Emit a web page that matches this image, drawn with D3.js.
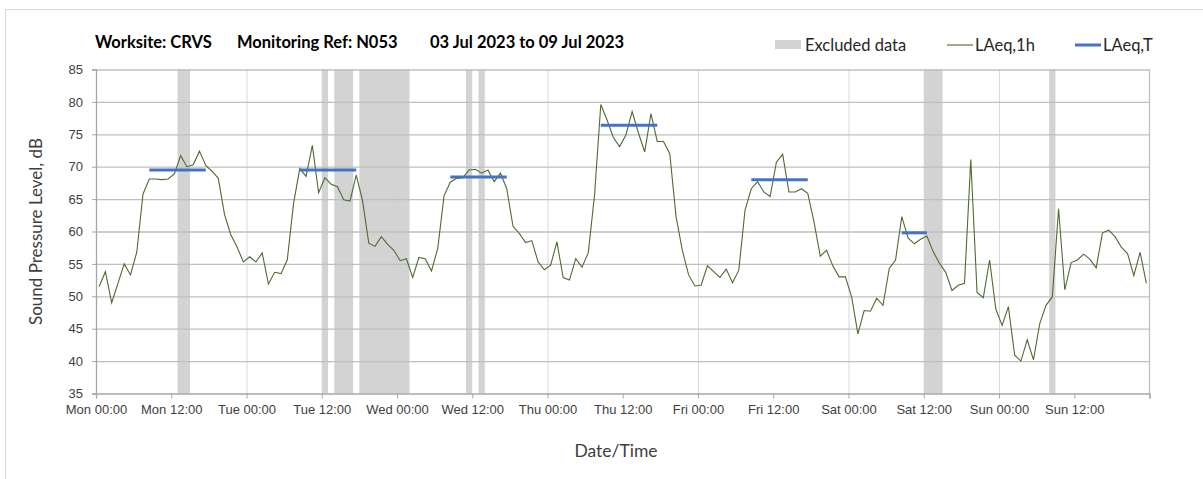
<!DOCTYPE html>
<html>
<head>
<meta charset="utf-8">
<script src="https://cdn.jsdelivr.net/npm/d3@7"></script>
<style>
  body { margin: 0; background: #fff; }
  svg { display: block; font-family: Lato, "Open Sans", sans-serif; }
</style>
</head>
<body>
<svg id="chart" width="1203" height="479"></svg>
<script>
// hourly LAeq,1h values, Mon 00:00 .. Sun 23:00 (168 hours)
const laeq1h = [
  // Mon
  51.5, 53.8, 49.0, 52.0, 55.0, 53.3, 56.8, 65.8, 68.1, 68.1, 68.0, 68.1,
  68.9, 71.7, 70.0, 70.3, 72.4, 70.2, 69.3, 68.2, 62.6, 59.5, 57.6, 55.3,
  // Tue
  56.1, 55.3, 56.7, 51.9, 53.7, 53.5, 55.6, 64.3, 69.7, 68.5, 73.3, 66.0,
  68.3, 67.3, 66.9, 64.9, 64.7, 68.7, 64.8, 58.2, 57.7, 59.2, 58.0, 57.1,
  // Wed
  55.5, 55.8, 52.9, 56.0, 55.8, 53.9, 57.4, 65.5, 67.6, 68.2, 68.3, 69.5,
  69.6, 69.0, 69.5, 67.7, 69.0, 66.6, 60.8, 59.7, 58.3, 58.6, 55.3, 54.1,
  // Thu
  54.8, 58.4, 52.9, 52.5, 55.8, 54.5, 56.7, 65.6, 79.6, 77.2, 74.5, 73.1,
  74.9, 78.5, 75.2, 72.3, 78.2, 73.9, 73.9, 72.0, 62.3, 57.1, 53.3, 51.6,
  // Fri
  51.7, 54.7, 53.8, 52.9, 54.2, 52.1, 54.0, 63.3, 66.6, 67.7, 66.1, 65.4,
  70.7, 71.9, 66.1, 66.1, 66.6, 65.9, 61.5, 56.2, 57.1, 54.7, 53.0, 53.0,
  // Sat
  49.9, 44.2, 47.8, 47.7, 49.7, 48.6, 54.3, 55.6, 62.3, 59.0, 58.1, 58.8,
  59.3, 56.9, 55.1, 53.7, 50.9, 51.7, 52.0, 71.1, 50.6, 49.8, 55.6, 48.0,
  // Sun
  45.5, 48.4, 40.9, 40.0, 43.3, 40.2, 45.8, 48.6, 49.9, 63.5, 51.0, 55.2,
  55.6, 56.5, 55.7, 54.4, 59.8, 60.2, 59.2, 57.6, 56.6, 53.2, 56.8, 52.0
];

// LAeq,T periods: first hour, last hour, level
const periodStart = [8, 32, 56, 80, 104, 128];
const periodEnd = [17, 41, 65, 89, 113, 132];
const periodLevel = [69.5, 69.5, 68.4, 76.4, 68.0, 59.8];

// excluded data: start hour, end hour
const excludedStart = [13, 36, 38, 42, 59, 61, 132, 152];
const excludedEnd = [15, 37, 41, 50, 60, 62, 135, 153];

const tickLabels = ["Mon 00:00", "Mon 12:00", "Tue 00:00", "Tue 12:00", "Wed 00:00",
  "Wed 12:00", "Thu 00:00", "Thu 12:00", "Fri 00:00", "Fri 12:00", "Sat 00:00",
  "Sat 12:00", "Sun 00:00", "Sun 12:00", ""];
const yTicks = [35, 40, 45, 50, 55, 60, 65, 70, 75, 80, 85];

const svg = d3.select("#chart");

// outer chart border
svg.append("rect")
  .attr("x", 5.5).attr("y", 9.5)
  .attr("width", 1210).attr("height", 480)
  .attr("fill", "none")
  .attr("stroke", "#d9d9d9");

const x = d3.scaleLinear().domain([0, 168]).range([96, 1149.5]);
const y = d3.scaleLinear().domain([35, 85]).range([393.5, 69.5]);

// excluded bands
svg.append("g").selectAll("rect")
  .data(excludedStart.map((s, i) => [s, excludedEnd[i]]))
  .join("rect")
  .attr("x", d => x(d[0]))
  .attr("width", d => x(d[1]) - x(d[0]))
  .attr("y", y(85))
  .attr("height", y(35) - y(85))
  .attr("fill", "#d3d3d3");

// vertical gridlines at midnight
svg.append("g")
  .attr("transform", `translate(0,${y(35)})`)
  .call(d3.axisBottom(x).tickValues(d3.range(24, 168, 24)).tickSize(-(y(35) - y(85))).tickFormat(""))
  .call(g => g.select(".domain").remove())
  .selectAll("line")
  .attr("stroke", "#cfcfcf")
  .attr("stroke-opacity", 0.8);

// horizontal gridlines
svg.append("g")
  .attr("transform", `translate(${x(0)},0)`)
  .call(d3.axisLeft(y).tickValues(yTicks.slice(1)).tickSize(-(x(168) - x(0))).tickFormat(""))
  .call(g => g.select(".domain").remove())
  .selectAll("line")
  .attr("stroke", "#bfbfbf")
  .attr("stroke-width", 1.3);

// right border of plot
svg.append("line")
  .attr("x1", x(168)).attr("x2", x(168))
  .attr("y1", y(85)).attr("y2", y(35))
  .attr("stroke", "#bfbfbf")
  .attr("stroke-width", 1.3);

// x axis
const xAxis = svg.append("g")
  .attr("transform", `translate(0,${y(35)})`)
  .call(d3.axisBottom(x)
    .tickValues(d3.range(0, 169, 12))
    .tickSize(5)
    .tickPadding(6)
    .tickFormat((d, i) => tickLabels[i]));
xAxis.select(".domain").attr("stroke", "#a6a6a6").attr("stroke-width", 1.3);
xAxis.selectAll("line").attr("stroke", "#a6a6a6");
xAxis.selectAll("text")
  .style("font-size", "13px")
  .attr("fill", "#404040");

// y axis
const yAxis = svg.append("g")
  .attr("transform", `translate(${x(0)},0)`)
  .call(d3.axisLeft(y).tickValues(yTicks).tickSize(4).tickPadding(9));
yAxis.select(".domain").attr("stroke", "#a6a6a6").attr("stroke-width", 1.3);
yAxis.selectAll("line").attr("stroke", "#a6a6a6");
yAxis.selectAll("text")
  .style("font-size", "13px")
  .attr("fill", "#404040");

// LAeq,1h line
const line = d3.line()
  .x((d, i) => x(i + 0.5))
  .y(d => y(d));

svg.append("path")
  .datum(laeq1h)
  .attr("d", line)
  .attr("fill", "none")
  .attr("stroke", "#4f6b32")
  .attr("stroke-width", 1.1);

// LAeq,T lines
svg.append("g").selectAll("line")
  .data(periodLevel.map((v, i) => ({ s: periodStart[i], e: periodEnd[i], v })))
  .join("line")
  .attr("x1", d => x(d.s + 0.5))
  .attr("x2", d => x(d.e + 0.5))
  .attr("y1", d => y(d.v))
  .attr("y2", d => y(d.v))
  .attr("stroke", "#4472c4")
  .attr("stroke-width", 3);

// title
const title = svg.append("g")
  .style("font-size", "16.5px")
  .style("font-weight", "bold")
  .attr("fill", "#000");
title.append("text").attr("x", 95).attr("y", 48).text("Worksite: CRVS");
title.append("text").attr("x", 237).attr("y", 48).text("Monitoring Ref: N053");
title.append("text").attr("x", 430).attr("y", 48).text("03 Jul 2023 to 09 Jul 2023");

// legend
const legend = svg.append("g").style("font-size", "16.5px").attr("fill", "#262626");
legend.append("rect").attr("x", 775).attr("y", 40).attr("width", 26).attr("height", 9).attr("fill", "#d3d3d3");
legend.append("text").attr("x", 805).attr("y", 51).text("Excluded data");
legend.append("line").attr("x1", 947).attr("x2", 973).attr("y1", 45).attr("y2", 45)
  .attr("stroke", "#4f6b32").attr("stroke-width", 1.1);
legend.append("text").attr("x", 975).attr("y", 51).text("LAeq,1h");
legend.append("line").attr("x1", 1075).attr("x2", 1101).attr("y1", 45).attr("y2", 45)
  .attr("stroke", "#4472c4").attr("stroke-width", 3);
legend.append("text").attr("x", 1103).attr("y", 51).text("LAeq,T");

// axis titles
svg.append("text")
  .attr("x", 616).attr("y", 457)
  .attr("text-anchor", "middle")
  .style("font-size", "17.5px")
  .attr("fill", "#404040")
  .text("Date/Time");

svg.append("text")
  .attr("transform", `translate(42,${(y(35) + y(85)) / 2}) rotate(-90)`)
  .attr("text-anchor", "middle")
  .style("font-size", "17px")
  .attr("fill", "#404040")
  .text("Sound Pressure Level, dB");
</script>
</body>
</html>
